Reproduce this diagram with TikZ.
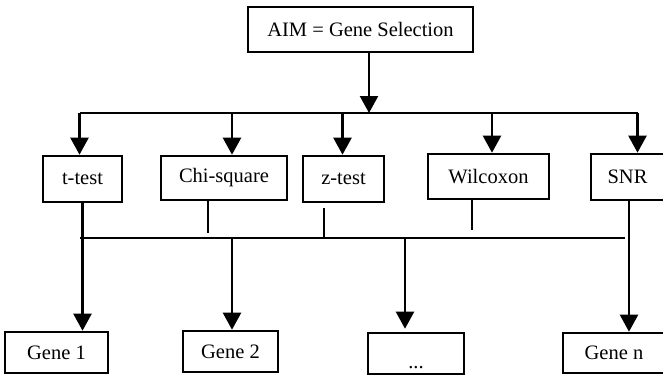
\documentclass[tikz,border=0pt]{standalone}
\usepackage{fontspec}
\setmainfont{Liberation Serif}
\usetikzlibrary{arrows.meta}

\tikzset{
  box/.style={draw, line width=2.6pt, inner sep=0pt, font=\fontsize{20.5}{24}\selectfont},
  arr/.style={line width=2.3pt, -{Triangle[width=18pt,length=17pt]}},
  bus/.style={line width=2.3pt},
  stub/.style={line width=2pt}
}

\begin{document}
\begin{tikzpicture}[x=1pt, y=-1pt]
      \useasboundingbox (0,0) rectangle (663,375);
      \clip (0,0) rectangle (663,375);

      % top
      \node[box, minimum width=225pt, minimum height=45pt] (aim) at (360.5,29.5) {AIM = Gene Selection};

      % tests
      \node[box, minimum width=79pt, minimum height=46pt] (ttest) at (82.5,179) {t-test};
      \node[box, minimum width=126pt, minimum height=44pt] (chisq) at (224,178) {Chi-square};
      \node[box, minimum width=81pt, minimum height=46pt] (ztest) at (343.5,179) {z-test};
      \node[box, minimum width=121pt, minimum height=45pt] (wilcox) at (488.5,176.5) {Wilcoxon};
      \node[box, minimum width=73pt, minimum height=46pt] (snr) at (627.5,177) {SNR};

      % genes
      \node[box, minimum width=103pt, minimum height=41pt] (gene1) at (56.5,352.5) {Gene 1};
      \node[box, minimum width=95pt, minimum height=41pt] (gene2) at (230.5,351.5) {Gene 2};
      \node[box, minimum width=96pt, text height=35pt, text depth=6pt] (dots) at (416,353.5) {...};
      \node[box, minimum width=102pt, minimum height=40pt] (genen) at (614,353) {Gene n};

      % upper bus
      \coordinate (upL) at (80,113);
      \coordinate (upR) at (638,113);
      \draw[bus] (upL) -- (upR);
      \draw[arr] ([xshift=8.5pt]aim.south) -- ([xshift=8.5pt]aim.south |- upL);
      \draw[arr] ([xshift=-3pt]ttest.north |- upL) -- ([xshift=-3pt]ttest.north);
      \draw[arr] ([xshift=8pt]chisq.north |- upL) -- ([xshift=8pt]chisq.north);
      \draw[arr] ([xshift=-1pt]ztest.north |- upL) -- ([xshift=-1pt]ztest.north);
      \draw[arr] ([xshift=3.5pt]wilcox.north |- upL) -- ([xshift=3.5pt]wilcox.north);
      \draw[arr] ([xshift=10pt]snr.north |- upL) -- ([xshift=10pt]snr.north);

      % lower bus
      \coordinate (lowL) at (80,238);
      \coordinate (lowR) at (625,238);
      \draw[bus] (lowL) -- (lowR);
      \draw[stub] ([xshift=-16pt]chisq.south) -- ++(0,32);
      \draw[stub] ([xshift=-19.5pt,yshift=-5pt]ztest.south) -- ([xshift=-19.5pt]ztest.south |- lowL);
      \draw[stub] ([xshift=-16.5pt]wilcox.south) -- ++(0,30);

      \draw[arr] (ttest.south) -- (ttest.south |- gene1.north);
      \draw[arr] ([xshift=1.5pt]gene2.north |- lowL) -- ([xshift=1.5pt]gene2.north);
      \draw[arr] ([xshift=-11pt]dots.north |- lowL) -- ([xshift=-11pt,yshift=3pt]dots.north);
      \draw[arr] ([xshift=1.5pt]snr.south) -- ([xshift=1.5pt]snr.south |- genen.north);
\end{tikzpicture}
\end{document}
